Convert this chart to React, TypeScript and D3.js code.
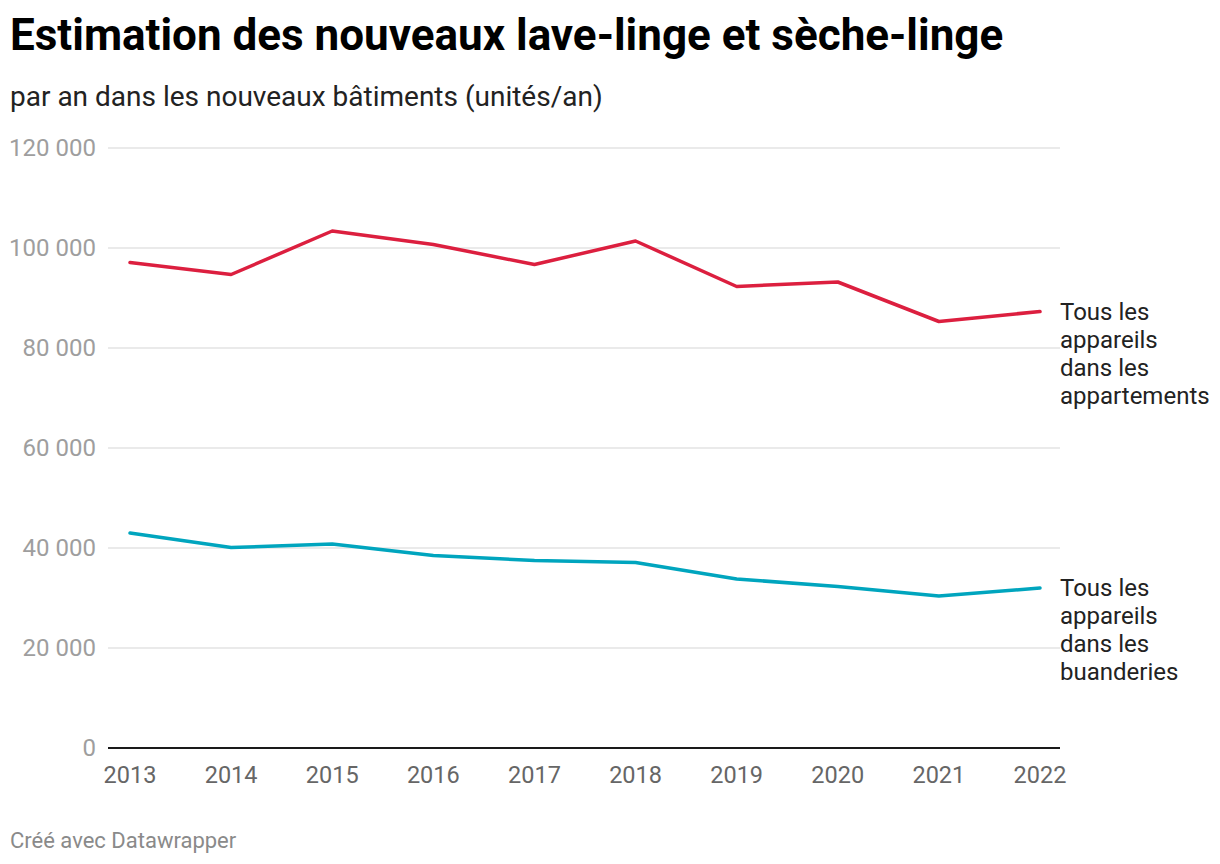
import * as d3 from "d3";

const years = [2013, 2014, 2015, 2016, 2017, 2018, 2019, 2020, 2021, 2022];
const appartements = [97100, 94700, 103400, 100700, 96700, 101400, 92300, 93200, 85300, 87300];
const buanderies = [43000, 40100, 40800, 38500, 37500, 37100, 33800, 32300, 30400, 32000];
const yTicks = [0, 20000, 40000, 60000, 80000, 100000, 120000];
const labelAppartements = ["Tous les", "appareils", "dans les", "appartements"];
const labelBuanderies = ["Tous les", "appareils", "dans les", "buanderies"];

const W = 1220;
const H = 864;
const M = { left: 108, right: 1060, top: 148, bottom: 748 };
const FONT = "Roboto, sans-serif";

const fmt = (v: number) => d3.format(",")(v).replace(/,/g, " ");

export default function App() {
  const x = d3.scalePoint<number>().domain(years).range([130, 1040]);
  const y = d3.scaleLinear().domain([0, 120000]).range([M.bottom, M.top]);
  const line = d3
    .line<number>()
    .x((_, i) => x(years[i]) as number)
    .y((d) => y(d));

  const series = [
    { values: appartements, color: "#dc1f3f", label: labelAppartements },
    { values: buanderies, color: "#00a5be", label: labelBuanderies },
  ];

  return (
    <svg width={W} height={H} style={{ position: "absolute", left: 0, top: 0 }} fontFamily={FONT}>
      <rect width={W} height={H} fill="#fff" />
      <text x={10} y={50} fontSize={44} fontWeight={700} fill="#000">
        Estimation des nouveaux lave-linge et sèche-linge
      </text>
      <text x={10} y={106} fontSize={28} fill="#222">
        par an dans les nouveaux bâtiments (unités/an)
      </text>

      {yTicks.map((t) => (
        <g key={t}>
          {t > 0 && (
            <line x1={M.left} x2={M.right} y1={y(t)} y2={y(t)} stroke="#e3e3e3" strokeWidth={1.5} />
          )}
          <text x={96} y={y(t) + 8} textAnchor="end" fontSize={24} fill="#9e9e9e">
            {fmt(t)}
          </text>
        </g>
      ))}

      <line x1={M.left} x2={M.right} y1={y(0)} y2={y(0)} stroke="#1a1a1a" strokeWidth={2} />

      {years.map((yr) => (
        <text key={yr} x={x(yr)} y={783} textAnchor="middle" fontSize={23.5} fill="#666">
          {yr}
        </text>
      ))}

      {series.map((s) => {
        const lastY = y(s.values[s.values.length - 1]);
        return (
          <g key={s.color}>
            <path
              d={line(s.values) ?? ""}
              fill="none"
              stroke={s.color}
              strokeWidth={3.5}
              strokeLinejoin="round"
              strokeLinecap="round"
            />
            {s.label.map((l, i) => (
              <text key={i} x={1060} y={lastY + 8 + i * 28} fontSize={24} fill="#222">
                {l}
              </text>
            ))}
          </g>
        );
      })}

      <text x={10} y={848} fontSize={22} fill="#8a8a8a">
        Créé avec Datawrapper
      </text>
    </svg>
  );
}
